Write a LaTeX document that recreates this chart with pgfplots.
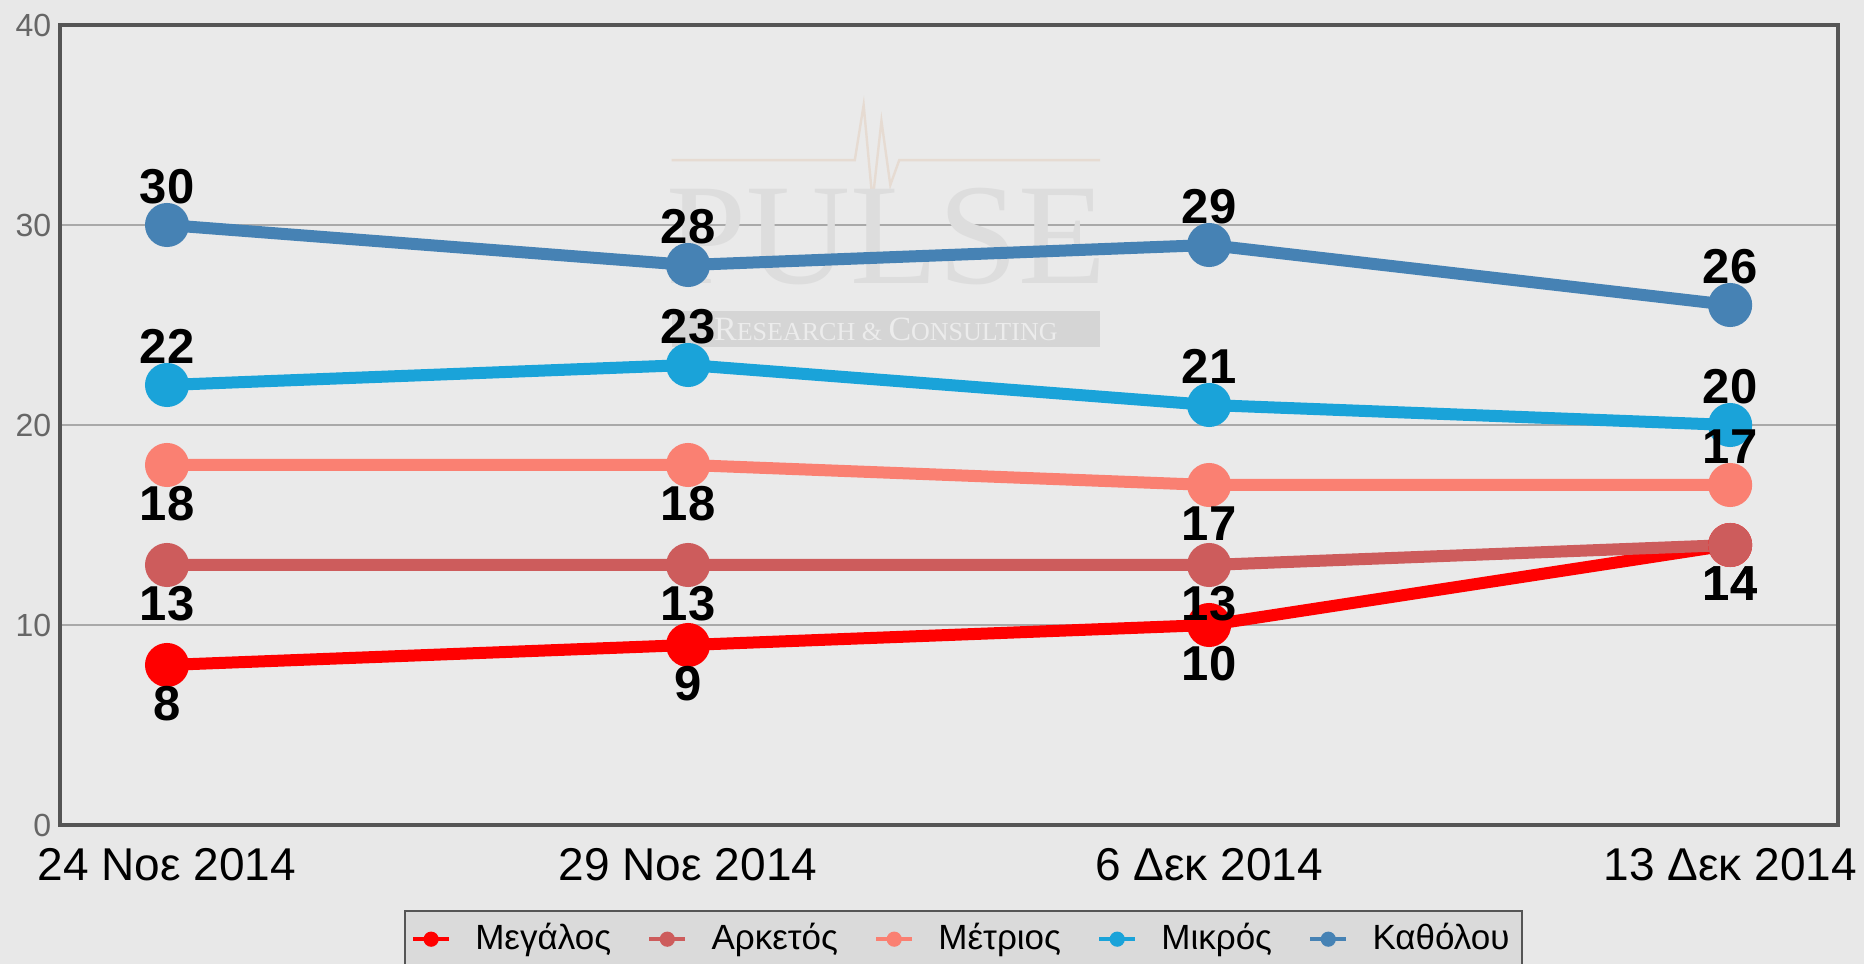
\documentclass[border=0pt]{standalone}
\usepackage{fontspec}
\setmainfont{Liberation Sans}
\newfontfamily\wmfont{Liberation Serif}
\usepackage{pgfplots}
\pgfplotsset{compat=1.18}
\usepackage{pgfplotstable}
\usetikzlibrary{backgrounds}

\definecolor{bgcol}{HTML}{E8E8E8}
\definecolor{plotbg}{HTML}{EAEAEA}
\definecolor{framecol}{HTML}{555555}
\definecolor{gridcol}{HTML}{A9A9A9}
\definecolor{ytickcol}{HTML}{666666}
\definecolor{legfill}{HTML}{DADADA}
\definecolor{wmcol}{HTML}{DDDDDD}
\definecolor{wmband}{HTML}{D5D5D5}
\definecolor{wmtext}{HTML}{ECECEC}
\definecolor{wmline}{HTML}{E6DBD2}
\definecolor{cMeg}{HTML}{FF0000}
\definecolor{cArk}{HTML}{CD5C5C}
\definecolor{cMet}{HTML}{FA8072}
\definecolor{cMik}{HTML}{1AA3D9}
\definecolor{cKat}{HTML}{4682B4}

% d* columns: label above (1) or below (-1) the point
\pgfplotstableread{
x megalos arketos metrios mikros katholou dMeg dArk dMet dMik dKat
0 8  13 18 22 30 -1 -1 -1 1 1
1 9  13 18 23 28 -1 -1 -1 1 1
2 10 13 17 21 29 -1 -1 -1 1 1
3 14 14 17 20 26 -1 -1 1 1 1
}\survey

\newcommand{\labelfont}{\fontsize{12.25}{14}\selectfont\bfseries}
\newcommand{\valuelabels}[2]{%
  \addplot[draw=none, mark=none, forget plot,
    nodes near coords={\pgfplotspointmeta}, point meta=explicit symbolic,
    visualization depends on={\thisrow{#2} \as \dir},
    every node near coord/.append style={anchor=center, inner sep=0pt,
      yshift=\dir*9.6pt, font=\labelfont, text=black}]
    table[x=x, y=#1, meta=#1] {\survey};}

\begin{document}
\begin{tikzpicture}
\begin{axis}[
  scale only axis, width=444.5pt, height=200pt,
  xmin=-0.2054, xmax=3.207, ymin=0, ymax=40,
  xtick={0,1,2,3},
  xticklabels={24 Νοε 2014, 29 Νοε 2014, 6 Δεκ 2014, 13 Δεκ 2014},
  ytick={0,10,20,30,40},
  major tick length=0pt,
  ymajorgrids, grid style={gridcol, line width=0.5pt},
  axis background/.style={fill=plotbg},
  axis line style={framecol, line width=1pt},
  xticklabel style={font=\fontsize{11.5}{13}\selectfont, inner sep=0pt, anchor=north, yshift=-5.75pt},
  yticklabel style={font=\fontsize{8}{9}\selectfont, text=ytickcol, inner sep=0pt, anchor=east, xshift=-2pt},
  /pgf/number format/assume math mode=true,
  clip=false,
  legend columns=5,
  legend style={at={(0.508,0)}, anchor=north, yshift=-21.25pt, fill=legfill,
    draw=framecol, line width=0.5pt, inner sep=1.5pt, nodes={inner sep=1.5pt},
    font=\fontsize{8.75}{10}\selectfont,
    /tikz/every odd column/.append style={column sep=4.5pt},
    /tikz/every even column/.append style={column sep=7.5pt}},
  legend image code/.code={
    \draw[#1, line width=1.1pt] (0pt,0pt) -- (9pt,0pt);
    \path[#1, draw=none, line width=0pt, fill] (4.5pt,0pt) circle (1.9pt);},
  every axis plot/.append style={line width=3pt, mark=*, mark size=4pt},
]
% faint watermark
\draw[wmline, line width=0.6pt] (rel axis cs:0.344,0.831) -- (rel axis cs:0.447,0.831)
  -- (rel axis cs:0.452,0.90) -- (rel axis cs:0.457,0.78) -- (rel axis cs:0.462,0.88)
  -- (rel axis cs:0.467,0.80) -- (rel axis cs:0.472,0.831) -- (rel axis cs:0.585,0.831);
\node[font=\wmfont\fontsize{36}{36}\selectfont, text=wmcol] at (rel axis cs:0.465,0.735) {PULSE};
\fill[wmband] (rel axis cs:0.344,0.5975) rectangle (rel axis cs:0.585,0.6425);
\node[font=\wmfont\fontsize{6.5}{7}\selectfont, text=wmtext] at (rel axis cs:0.4645,0.62)
  {{\fontsize{8.5}{9}\selectfont R}ESEARCH \& {\fontsize{8.5}{9}\selectfont C}ONSULTING};

\addplot[cMeg, mark options={fill=cMeg, draw=none}] table[x=x, y=megalos] {\survey};
\addlegendentry{Μεγάλος}
\addplot[cArk, mark options={fill=cArk, draw=none}] table[x=x, y=arketos] {\survey};
\addlegendentry{Αρκετός}
\addplot[cMet, mark options={fill=cMet, draw=none}] table[x=x, y=metrios] {\survey};
\addlegendentry{Μέτριος}
\addplot[cMik, mark options={fill=cMik, draw=none}] table[x=x, y=mikros] {\survey};
\addlegendentry{Μικρός}
\addplot[cKat, mark options={fill=cKat, draw=none}] table[x=x, y=katholou] {\survey};
\addlegendentry{Καθόλου}

\valuelabels{megalos}{dMeg}
\valuelabels{arketos}{dArk}
\valuelabels{metrios}{dMet}
\valuelabels{mikros}{dMik}
\valuelabels{katholou}{dKat}

\coordinate (sw) at (rel axis cs:0,0);
\coordinate (ne) at (rel axis cs:1,1);
\end{axis}
\begin{scope}[on background layer]
\fill[bgcol] ([shift={(-15pt,-34.75pt)}]sw) rectangle ([shift={(6.5pt,6.25pt)}]ne);
\end{scope}
\pgfresetboundingbox
\path[use as bounding box] ([shift={(-15pt,-34.75pt)}]sw) rectangle ([shift={(6.5pt,6.25pt)}]ne);
\end{tikzpicture}
\end{document}
